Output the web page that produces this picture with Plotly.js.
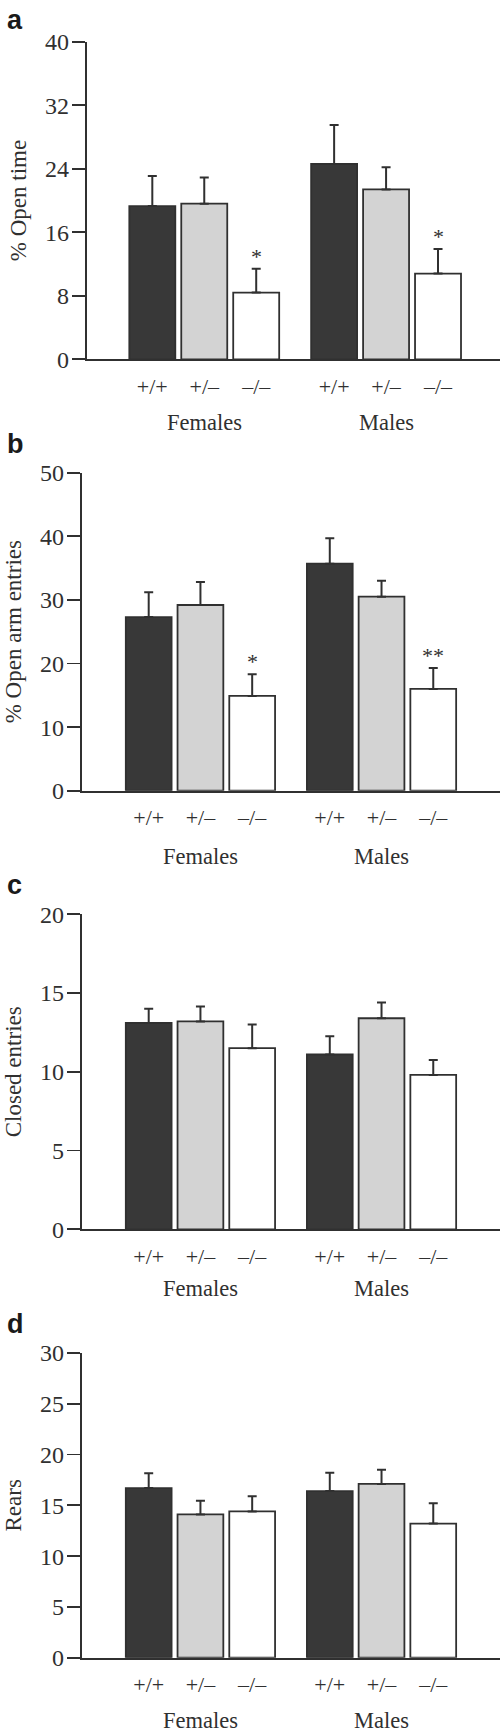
<!DOCTYPE html>
<html>
<head>
<meta charset="utf-8">
<script src="https://cdn.plot.ly/plotly-3.0.1.min.js"></script>
<style>html,body{margin:0;padding:0;background:#fff;}#chart{width:500px;height:1732px;}</style>
</head>
<body>
<div id="chart"></div>
<script>
// ---- Data ----
const genotypes = ["+/+", "+/–", "–/–"];
const sexes = ["Females", "Males"];

// a: % Open time (Females +/+, +/-, -/-, Males +/+, +/-, -/-)
const openTimeMean = [19.3, 19.6, 8.4, 24.6, 21.4, 10.8];
const openTimeSem  = [3.8, 3.3, 3.0, 4.9, 2.8, 3.1];
const openTimeSig  = ["", "", "*", "", "", "*"];

// b: % Open arm entries
const openArmMean = [27.3, 29.2, 14.9, 35.7, 30.5, 16.0];
const openArmSem  = [3.9, 3.6, 3.4, 4.0, 2.5, 3.3];
const openArmSig  = ["", "", "*", "", "", "**"];

// c: Closed entries
const closedMean = [13.1, 13.2, 11.5, 11.1, 13.4, 9.8];
const closedSem  = [0.9, 0.95, 1.5, 1.15, 1.0, 0.95];
const closedSig  = ["", "", "", "", "", ""];

// d: Rears
const rearsMean = [16.7, 14.1, 14.4, 16.4, 17.1, 13.2];
const rearsSem  = [1.45, 1.35, 1.5, 1.8, 1.4, 2.0];
const rearsSig  = ["", "", "", "", "", ""];

const yTitles = ["% Open time", "% Open arm entries", "Closed entries", "Rears"];
const panelLetters = ["a", "b", "c", "d"];

// ---- Styling / layout ----
const W = 500, H = 1732;
const SERIF = "Liberation Serif, Times New Roman, serif";
const INK = "#303030";
const genoColors = ["#383838", "#d3d3d3", "#ffffff"];
const groupStep = 3.5;

const panels = [
  {mean: openTimeMean, sem: openTimeSem, sig: openTimeSig, ymax: 40, dtick: 8,  left: 86.7, top: 41.7,  bottom: 359.3,  xr: [-1.263, 6.693], letterY: 20,   groupShift: -63},
  {mean: openArmMean,  sem: openArmSem,  sig: openArmSig,  ymax: 50, dtick: 10, left: 81.7, top: 472.7, bottom: 790.7,  xr: [-1.295, 6.79],  letterY: 444,  groupShift: -66},
  {mean: closedMean,   sem: closedSem,   sig: closedSig,   ymax: 20, dtick: 5,  left: 81.7, top: 914.3, bottom: 1229.3, xr: [-1.295, 6.79],  letterY: 885,  groupShift: -59},
  {mean: rearsMean,    sem: rearsSem,    sig: rearsSig,    ymax: 30, dtick: 5,  left: 81.7, top: 1352.9,bottom: 1657.7, xr: [-1.295, 6.79],  letterY: 1324, groupShift: -63}
];

const xpos = [];
const xlabels = [];
const barColors = [];
sexes.forEach((s, g) => genotypes.forEach((gt, i) => {
  xpos.push(g * groupStep + i);
  xlabels.push(gt);
  barColors.push(genoColors[i]);
}));

const data = [];
const layout = {
  width: W, height: H,
  margin: {l: 0, r: 0, t: 0, b: 0},
  paper_bgcolor: "#fff", plot_bgcolor: "rgba(0,0,0,0)",
  showlegend: false,
  annotations: []
};

panels.forEach((p, k) => {
  const s = k === 0 ? "" : String(k + 1);
  data.push({
    type: "bar",
    x: xpos, y: p.mean,
    xaxis: "x" + s, yaxis: "y" + s,
    width: 0.885,
    marker: {color: barColors, line: {color: INK, width: 1.8}},
    error_y: {type: "data", symmetric: false, array: p.sem, arrayminus: p.sem.map(() => 0),
              color: INK, thickness: 2, width: 4.5},
    hoverinfo: "skip", showlegend: false
  });
  layout["xaxis" + s] = {
    domain: [p.left / W, 1], range: p.xr, anchor: "y" + s,
    showline: true, linecolor: INK, linewidth: 1.8,
    ticks: "", tickvals: xpos, ticktext: xlabels, ticklabelstandoff: 6,
    tickfont: {family: SERIF, size: 22, color: INK},
    showgrid: false, zeroline: false, fixedrange: true
  };
  layout["yaxis" + s] = {
    domain: [1 - p.bottom / H, 1 - p.top / H], range: [0, p.ymax], anchor: "x" + s,
    tick0: 0, dtick: p.dtick,
    showline: true, linecolor: INK, linewidth: 1.8,
    ticks: "outside", ticklen: 13, tickwidth: 1.8, tickcolor: INK,
    ticklabelstandoff: -2,
    tickfont: {family: SERIF, size: 24, color: INK},
    showgrid: false, zeroline: false, fixedrange: true,
    title: {text: yTitles[k], font: {family: SERIF, size: 23, color: INK}, standoff: 12}
  };
  // significance stars
  p.sig.forEach((t, j) => {
    if (!t) return;
    layout.annotations.push({
      xref: "x" + s, yref: "y" + s, x: xpos[j], y: p.mean[j] + p.sem[j],
      text: t, showarrow: false, yanchor: "bottom", yshift: -2,
      font: {family: SERIF, size: 22, color: INK}
    });
  });
  // group labels
  sexes.forEach((sx, g) => {
    layout.annotations.push({
      xref: "x" + s, yref: "y" + s, x: g * groupStep + 1, y: 0,
      text: sx, showarrow: false, yanchor: "middle", yshift: p.groupShift,
      font: {family: SERIF, size: 22.5, color: INK}
    });
  });
  // panel letter
  layout.annotations.push({
    xref: "paper", yref: "paper", x: 5 / W, y: 1 - p.letterY / H,
    xanchor: "left", yanchor: "middle",
    text: "<b>" + panelLetters[k] + "</b>", showarrow: false,
    font: {family: "Liberation Sans, Arial, sans-serif", size: 27, color: "#1a1a1a"}
  });
});

Plotly.newPlot("chart", data, layout, {staticPlot: true, displayModeBar: false});
</script>
</body>
</html>
